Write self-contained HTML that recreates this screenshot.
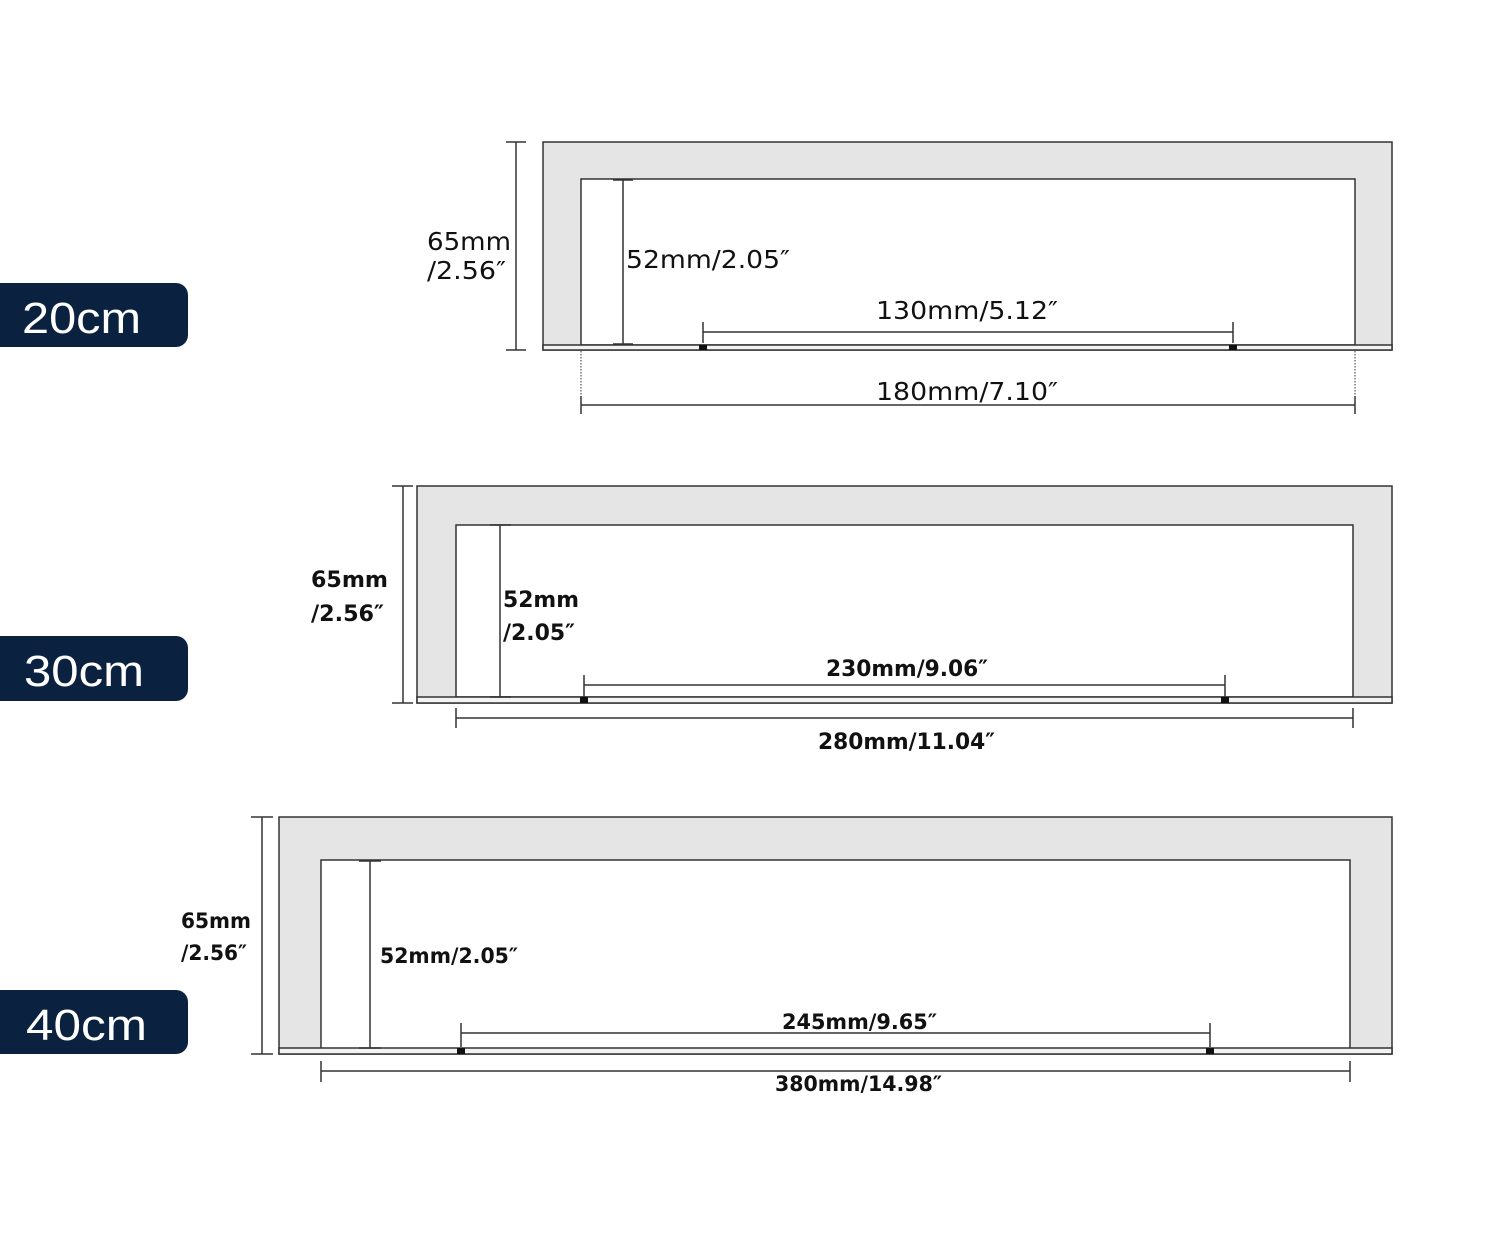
<!DOCTYPE html>
<html><head><meta charset="utf-8"><style>
html,body{margin:0;padding:0;background:#fff}
svg{display:block}
text{font-family:"DejaVu Sans","Liberation Sans",sans-serif;fill:#111}
.p{fill:#fff;font-family:"Liberation Sans",sans-serif}
</style></head><body>
<svg width="1500" height="1234" viewBox="0 0 1500 1234" xmlns="http://www.w3.org/2000/svg">
<g stroke="#333" stroke-width="1.5">
<!-- D1 -->
<rect x="543" y="142" width="849" height="208" fill="#e5e5e5"/>
<path d="M581,345V179H1355V345Z" fill="#fff"/>
<rect x="543" y="345" width="849" height="5" fill="#f3f3f3"/>
<path d="M516,142V350M506,142H526M506,350H526" fill="none"/>
<path d="M623,180V344M613,180H633M613,344H633" fill="none"/>
<path d="M703,332H1233M703,322V343M1233,322V343" fill="none"/>
<path d="M581,405H1355M581,396V414M1355,396V414" fill="none" />
<!-- D2 -->
<rect x="417" y="486" width="975" height="217" fill="#e5e5e5"/>
<path d="M456,697V525H1353V697Z" fill="#fff"/>
<rect x="417" y="697" width="975" height="6" fill="#f3f3f3"/>
<path d="M403,486V703M392,486H413M392,703H413" fill="none"/>
<path d="M500,525V697M490,525H511M490,697H511" fill="none"/>
<path d="M584,685H1225M584,675V697M1225,675V697" fill="none"/>
<path d="M456,718H1353M456,708V728M1353,708V728" fill="none"/>
<!-- D3 -->
<rect x="279" y="817" width="1113" height="237" fill="#e5e5e5"/>
<path d="M321,1049V860H1350V1049Z" fill="#fff"/>
<rect x="279" y="1048" width="1113" height="6" fill="#f3f3f3"/>
<path d="M262,817V1054M251,817H273M251,1054H273" fill="none"/>
<path d="M370,861V1048M359,861H381M359,1048H381" fill="none"/>
<path d="M461,1033H1210M461,1023V1047M1210,1023V1047" fill="none"/>
<path d="M321,1071H1350M321,1061V1082M1350,1061V1082" fill="none"/>
</g>
<g stroke="#555" stroke-width="1.2" stroke-dasharray="1.5 1.5">
<path d="M581,351V396M1355,351V396"/>
</g>
<g fill="#111">
<rect x="699" y="345" width="8" height="5"/><rect x="1229" y="345" width="8" height="5"/>
<rect x="580" y="697" width="8" height="6"/><rect x="1221" y="697" width="8" height="6"/>
<rect x="457" y="1048" width="8" height="6"/><rect x="1206" y="1048" width="8" height="6"/>
</g>
<!-- pills -->
<g fill="#0a2240">
<path d="M0,283H176a12,12 0 0 1 12,12V335a12,12 0 0 1 -12,12H0Z"/>
<path d="M0,636H176a12,12 0 0 1 12,12V689a12,12 0 0 1 -12,12H0Z"/>
<path d="M0,990H176a12,12 0 0 1 12,12V1042a12,12 0 0 1 -12,12H0Z"/>
</g>
<text class="p" x="22" y="333" font-size="44" textLength="119" lengthAdjust="spacingAndGlyphs">20cm</text>
<text class="p" x="24" y="686" font-size="44" textLength="120" lengthAdjust="spacingAndGlyphs">30cm</text>
<text class="p" x="26" y="1040" font-size="44" textLength="121" lengthAdjust="spacingAndGlyphs">40cm</text>
<!-- D1 text -->
<g font-size="25">
<text x="427" y="250" textLength="84" lengthAdjust="spacingAndGlyphs">65mm</text>
<text x="427" y="279" textLength="79" lengthAdjust="spacingAndGlyphs">/2.56″</text>
<text x="626" y="268" textLength="164" lengthAdjust="spacingAndGlyphs">52mm/2.05″</text>
<text x="876" y="319" textLength="182" lengthAdjust="spacingAndGlyphs">130mm/5.12″</text>
<text x="876" y="400" textLength="182" lengthAdjust="spacingAndGlyphs">180mm/7.10″</text>
</g>
<g font-size="22" font-weight="bold">
<text x="311" y="587" textLength="77" lengthAdjust="spacingAndGlyphs">65mm</text>
<text x="311" y="621" textLength="73" lengthAdjust="spacingAndGlyphs">/2.56″</text>
<text x="503" y="607" textLength="76" lengthAdjust="spacingAndGlyphs">52mm</text>
<text x="503" y="640" textLength="72" lengthAdjust="spacingAndGlyphs">/2.05″</text>
<text x="826" y="676" textLength="162" lengthAdjust="spacingAndGlyphs">230mm/9.06″</text>
<text x="818" y="749" textLength="177" lengthAdjust="spacingAndGlyphs">280mm/11.04″</text>
</g>
<g font-size="21" font-weight="bold">
<text x="181" y="928" textLength="70" lengthAdjust="spacingAndGlyphs">65mm</text>
<text x="181" y="960" textLength="66" lengthAdjust="spacingAndGlyphs">/2.56″</text>
<text x="380" y="963" textLength="138" lengthAdjust="spacingAndGlyphs">52mm/2.05″</text>
<text x="782" y="1029" textLength="155" lengthAdjust="spacingAndGlyphs">245mm/9.65″</text>
<text x="775" y="1091" textLength="167" lengthAdjust="spacingAndGlyphs">380mm/14.98″</text>
</g>
</svg>
</body></html>
